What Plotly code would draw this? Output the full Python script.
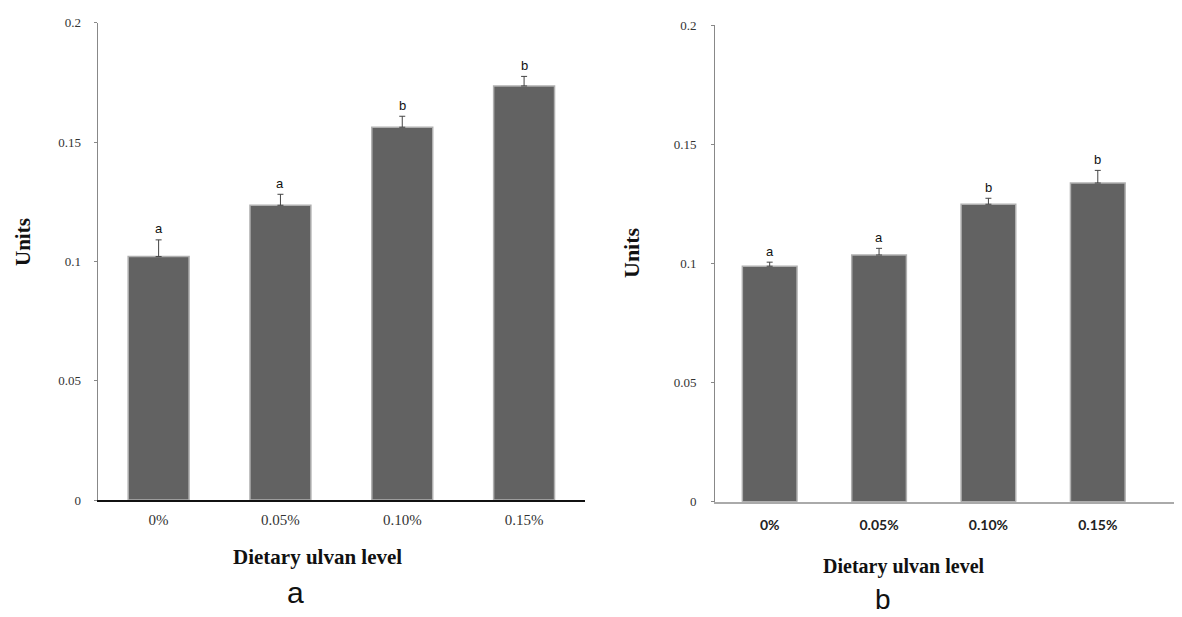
import plotly.graph_objects as go

categories = ["0%", "0.05%", "0.10%", "0.15%"]
values_a = [0.102, 0.1235, 0.1562, 0.1735]
errors_a = [0.007, 0.0046, 0.0046, 0.004]
letters_a = ["a", "a", "b", "b"]
values_b = [0.0988, 0.1035, 0.1248, 0.1337]
errors_b = [0.0017, 0.0028, 0.0025, 0.0053]
letters_b = ["a", "a", "b", "b"]
ytick_vals = [0, 0.05, 0.1, 0.15, 0.2]
ytick_text = ["0", "0.05", "0.1", "0.15", "0.2"]

# page has 8px body margin -> shift everything
OFF = 8
W, H = 1182 - OFF, 617 - OFF


def px(x):
    return (x - OFF) / W


def py(y):
    return (H - (y - OFF)) / H


BAR = "#626262"
SERIF = "Liberation Serif, Times New Roman, serif"
SANS = "Liberation Sans, Arial, sans-serif"

fig = go.Figure()


def add_panel(vals, errs, xa, ya):
    fig.add_trace(go.Bar(
        x=categories, y=vals, xaxis=xa, yaxis=ya, width=0.5,
        marker=dict(color=BAR, line=dict(color="#b0b0b0", width=1.5)),
        error_y=dict(type="data", symmetric=False, array=errs,
                     arrayminus=[0] * len(errs), color="#444444",
                     thickness=1, width=3),
        showlegend=False, hoverinfo="x+y"))


add_panel(values_a, errors_a, "x", "y")
add_panel(values_b, errors_b, "x2", "y2")

for vals, errs, letters, xr, yr in [
        (values_a, errors_a, letters_a, "x", "y"),
        (values_b, errors_b, letters_b, "x2", "y2")]:
    for c, v, e, l in zip(categories, vals, errs, letters):
        fig.add_annotation(x=c, y=v + e, xref=xr, yref=yr, text=l,
                           showarrow=False, yshift=11,
                           xanchor="center", yanchor="middle",
                           font=dict(family=SANS, size=13, color="#111"))

yax_common = dict(range=[0, 0.2], tickvals=ytick_vals, ticktext=ytick_text,
                  showgrid=False, zeroline=False, showline=True,
                  linecolor="#888888", linewidth=1, ticks="outside",
                  ticklen=3, tickcolor="#888888", automargin=False,
                  tickfont=dict(family=SERIF, size=13, color="#333"))

fig.update_layout(
    width=W, height=H, margin=dict(l=0, r=0, t=0, b=0),
    paper_bgcolor="white", plot_bgcolor="white",
    bargap=0.5,
    xaxis=dict(domain=[px(97.7), px(585)], range=[-0.5, 3.5],
               showline=True, linecolor="#111111", linewidth=1.5,
               showgrid=False, ticks="", ticklabelstandoff=5,
               automargin=False,
               tickfont=dict(family=SERIF, size=15, color="#333"),
               anchor="y"),
    yaxis=dict(domain=[py(500), py(22.7)], anchor="x",
               ticklabelstandoff=10, **yax_common),
    xaxis2=dict(domain=[px(715), 1.0], range=[-0.5, 3.77],
                showline=True, linecolor="#aaaaaa", linewidth=1.5,
                showgrid=False, ticks="", ticklabelstandoff=10,
                automargin=False,
                tickfont=dict(family="Lato, Open Sans, sans-serif", size=14,
                              color="#222", weight="bold"),
                anchor="y2"),
    yaxis2=dict(domain=[py(501.7), py(25)], anchor="x2",
                ticklabelstandoff=12, **yax_common),
)


def label(x, y, text, size, family, angle=0):
    fig.add_annotation(x=px(x), y=py(y), xref="paper", yref="paper",
                       text=text, textangle=angle, showarrow=False,
                       xanchor="center", yanchor="middle",
                       font=dict(family=family, size=size, color="#111"))


# axis titles and panel labels
label(23, 242, "<b>Units</b>", 21, SERIF, -90)
label(632, 253, "<b>Units</b>", 22, SERIF, -90)
label(317, 557, "<b>Dietary ulvan level</b>", 21, SERIF)
label(904, 566, "<b>Dietary ulvan level</b>", 20, SERIF)
label(295, 592, "a", 30, SANS)
label(883, 599, "b", 28, SANS)

fig.write_html("out.html")
